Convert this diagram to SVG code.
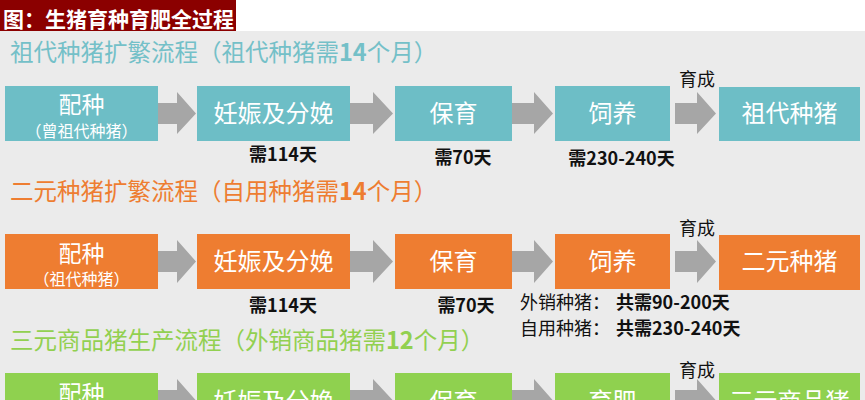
<svg xmlns="http://www.w3.org/2000/svg" width="865" height="400" viewBox="0 0 865 400">
<style>
text{font-family:"Noto Sans CJK SC","Microsoft YaHei","Noto Sans",sans-serif}
.t{fill:#6dbec6}.o{fill:#ee7d31}.g{fill:#8fd14f}
.bx{fill:#fff;font-size:24px;text-anchor:middle}
.bs{fill:#fff;font-size:16px;text-anchor:middle}
.hd{font-size:23.5px}
.lb{fill:#111;font-size:18px;font-weight:bold;text-anchor:middle}
.nm{fill:#111;font-size:18px}
.b{font-weight:bold}
.arr{fill:#a6a6a6}
</style>
<rect x="0" y="0" width="865" height="400" fill="#ffffff"/>
<rect x="0" y="31" width="865" height="369" fill="#ebebeb"/>
<g id="title">
<rect x="0" y="0" width="236" height="31" fill="#8b0000"/>
<text x="3" y="27" fill="#fff" font-size="21" font-weight="bold">图：生猪育种育肥全过程</text>
</g>
<g id="headings">
<text class="hd t" x="10" y="61" style="fill:#74c0c8">祖代种猪扩繁流程（祖代种猪需<tspan class="b">14</tspan>个月）</text>
<text class="hd o" x="10" y="200">二元种猪扩繁流程（自用种猪需<tspan class="b">14</tspan>个月）</text>
<text class="hd g" x="10" y="349" style="fill:#92d050">三元商品猪生产流程（外销商品猪需<tspan class="b">12</tspan>个月）</text>
</g>
<g id="connectors">
<path class="arr" d="M158,103H177V92L196,113.5L177,134V124H158Z"/>
<path class="arr" d="M350,103H373V92L393,113.5L373,134V124H350Z"/>
<path class="arr" d="M512,103H534V92L553,113.5L534,134V124H512Z"/>
<path class="arr" d="M675,103H697V92L716,113.5L697,134V124H675Z"/>
<path class="arr" d="M158,251H177V240L196,261.5L177,283V272H158Z"/>
<path class="arr" d="M350,251H373V240L393,261.5L373,283V272H350Z"/>
<path class="arr" d="M512,251H534V240L553,261.5L534,283V272H512Z"/>
<path class="arr" d="M675,251H697V240L716,261.5L697,283V272H675Z"/>
<path class="arr" d="M158,390H177V379L196,400.5L177,422V411H158Z"/>
<path class="arr" d="M350,390H373V379L393,400.5L373,422V411H350Z"/>
<path class="arr" d="M512,390H534V379L553,400.5L534,422V411H512Z"/>
<path class="arr" d="M675,390H697V379L716,400.5L697,422V411H675Z"/>
</g>
<g id="r1n1"><rect x="5" y="86" width="153" height="55" class="t"/><text class="bx" x="81.5" y="113" style="font-size:23px">配种</text><text class="bs" x="81.5" y="137">（曾祖代种猪）</text></g>
<g id="r1n2"><rect x="197" y="86" width="153" height="55" class="t"/><text class="bx" x="273.5" y="122">妊娠及分娩</text></g>
<g id="r1n3"><rect x="395" y="86" width="117" height="55" class="t"/><text class="bx" x="453.5" y="122">保育</text></g>
<g id="r1n4"><rect x="555" y="86" width="115" height="55" class="t"/><text class="bx" x="612.5" y="122">饲养</text></g>
<g id="r1n5"><rect x="719" y="87" width="141" height="54" class="t"/><text class="bx" x="789.5" y="122">祖代种猪</text></g>

<g id="r2n1"><rect x="5" y="234" width="153" height="55" class="o"/><text class="bx" x="81.5" y="262" style="font-size:23px">配种</text><text class="bs" x="81.5" y="285">（祖代种猪）</text></g>
<g id="r2n2"><rect x="197" y="234" width="153" height="55" class="o"/><text class="bx" x="273.5" y="270">妊娠及分娩</text></g>
<g id="r2n3"><rect x="395" y="234" width="117" height="55" class="o"/><text class="bx" x="453.5" y="270">保育</text></g>
<g id="r2n4"><rect x="555" y="234" width="115" height="55" class="o"/><text class="bx" x="612.5" y="270">饲养</text></g>
<g id="r2n5"><rect x="719" y="235" width="141" height="55" class="o"/><text class="bx" x="789.5" y="270">二元种猪</text></g>

<g id="r3n1"><rect x="5" y="373" width="153" height="55" class="g"/><text class="bx" x="81.5" y="402" style="font-size:23px">配种</text></g>
<g id="r3n2"><rect x="197" y="373" width="153" height="55" class="g"/><text class="bx" x="273.5" y="410">妊娠及分娩</text></g>
<g id="r3n3"><rect x="395" y="373" width="117" height="55" class="g"/><text class="bx" x="453.5" y="410">保育</text></g>
<g id="r3n4"><rect x="555" y="373" width="115" height="55" class="g"/><text class="bx" x="612.5" y="410">育肥</text></g>
<g id="r3n5"><rect x="719" y="373" width="141" height="55" class="g"/><text class="bx" x="789.5" y="410">三元商品猪</text></g>

<g id="labels">
<text class="lb" x="283" y="161">需114天</text>
<text class="lb" x="463" y="164">需70天</text>
<text class="lb" x="621.5" y="165">需230-240天</text>
<text class="nm" x="679" y="86">育成</text>
<text class="lb" x="283" y="312">需114天</text>
<text class="lb" x="466" y="312">需70天</text>
<text class="nm" x="520" y="309">外销种猪：<tspan class="b" x="616">共需90-200天</tspan></text>
<text class="nm" x="520" y="335">自用种猪：<tspan class="b" x="616">共需230-240天</tspan></text>
<text class="nm" x="679" y="235">育成</text>
<text class="nm" x="679" y="377">育成</text>
</g>
</svg>
